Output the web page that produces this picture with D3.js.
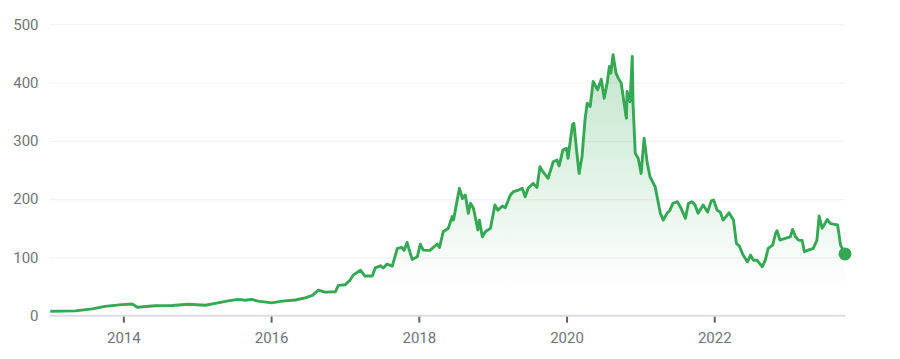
<!DOCTYPE html>
<html>
<head>
<meta charset="utf-8">
<script src="https://cdn.jsdelivr.net/npm/d3@7"></script>
<style>
  html, body { margin: 0; padding: 0; background: #fff; }
  svg { display: block; }
</style>
</head>
<body>
<svg id="chart" width="900" height="359"></svg>
<script>
// decimal years and closing price
var years = [
  2013.01, 2013.35, 2013.58, 2013.75, 2013.98, 2014.12, 2014.19, 2014.43, 2014.66, 2014.88,
  2015.11, 2015.28, 2015.40, 2015.55, 2015.65, 2015.74, 2015.82, 2016.01, 2016.15, 2016.33,
  2016.46, 2016.56, 2016.64, 2016.73, 2016.87, 2016.91, 2017.00, 2017.07, 2017.11, 2017.21,
  2017.27, 2017.37, 2017.41, 2017.48, 2017.52, 2017.57, 2017.64, 2017.71, 2017.77, 2017.80,
  2017.84, 2017.91, 2017.98, 2018.02, 2018.06, 2018.15, 2018.25, 2018.28, 2018.33, 2018.40,
  2018.45, 2018.47, 2018.52, 2018.55, 2018.59, 2018.63, 2018.67, 2018.70, 2018.74, 2018.80,
  2018.82, 2018.86, 2018.90, 2018.97, 2019.03, 2019.07, 2019.13, 2019.17, 2019.24, 2019.28,
  2019.35, 2019.40, 2019.44, 2019.48, 2019.55, 2019.60, 2019.64, 2019.68, 2019.75, 2019.82,
  2019.87, 2019.90, 2019.95, 2020.00, 2020.02, 2020.08, 2020.10, 2020.14, 2020.17, 2020.21,
  2020.25, 2020.28, 2020.32, 2020.36, 2020.42, 2020.47, 2020.51, 2020.55, 2020.58, 2020.60,
  2020.63, 2020.67, 2020.70, 2020.74, 2020.77, 2020.81, 2020.82, 2020.86, 2020.89, 2020.90,
  2020.93, 2020.97, 2021.01, 2021.05, 2021.09, 2021.13, 2021.20, 2021.27, 2021.31, 2021.36,
  2021.40, 2021.44, 2021.50, 2021.54, 2021.61, 2021.65, 2021.70, 2021.74, 2021.78, 2021.85,
  2021.91, 2021.96, 2021.99, 2022.04, 2022.08, 2022.12, 2022.16, 2022.20, 2022.26, 2022.30,
  2022.34, 2022.39, 2022.45, 2022.49, 2022.53, 2022.58, 2022.60, 2022.65, 2022.69, 2022.73,
  2022.79, 2022.83, 2022.85, 2022.89, 2022.96, 2023.03, 2023.06, 2023.10, 2023.14, 2023.19,
  2023.22, 2023.27, 2023.34, 2023.39, 2023.42, 2023.46, 2023.50, 2023.53, 2023.57, 2023.61,
  2023.67, 2023.71, 2023.77
];
var prices = [
  7.7, 8.3, 11.7, 16, 19, 20, 14.6, 17, 17.5, 19.7,
  18, 22, 25, 28, 26.6, 28, 25, 22, 25, 27,
  30.6, 35, 43.8, 40.4, 41, 52, 53, 61, 69.6, 78,
  68, 68, 82, 85.6, 82, 88.5, 85, 115.4, 117, 112,
  125.7, 96.5, 101, 122.8, 112.5, 112, 123, 117, 144, 150,
  170, 164, 198.5, 218.5, 201, 207, 175.6, 192.8, 184, 147,
  164, 135.4, 144, 150, 190, 181, 188, 185, 207, 212.7,
  215.6, 218.5, 204, 218.5, 227, 220, 255.7, 247, 235.7, 264,
  267, 257, 284, 287, 270, 327, 330, 278.7, 244, 273,
  336, 364.6, 358.8, 401.7, 387.5, 405.8, 373, 399, 427.5, 416,
  447.6, 416, 407.5, 399, 373, 338.8, 384.5, 367, 444.7, 364.6,
  278.7, 270, 244, 304.5, 264, 238.5, 221, 175.6, 164, 175.6,
  181, 192.8, 195.5, 187, 167, 192.8, 195.5, 190, 175.6, 190,
  178, 197, 198.5, 181, 178, 164, 170, 176.6, 164, 124,
  119.4, 104, 92.4, 104, 95, 95, 92, 84, 95, 115.5,
  121, 141, 145.7, 129.7, 132.6, 135.4, 148, 135.4, 129.7, 129,
  109.6, 112.5, 115.5, 129.7, 171, 150, 158.4, 165, 158.4, 157,
  155.5, 121, 106
];
var yTicks = [0, 100, 200, 300, 400, 500];
var xTicks = [2014, 2016, 2018, 2020, 2022];

var data = years.map(function(d, i) { return [d, prices[i]]; });

var svg = d3.select('#chart');
var padLeft = 49.5, padRight = 845, padTop = 24.2, padBottom = 315.7;
var green = '#34a853';
var font = 'Roboto, "Noto Sans", sans-serif';

var x = d3.scaleLinear().domain([2013, d3.max(years)]).range([padLeft, padRight]);
var y = d3.scaleLinear().domain([0, 500]).range([padBottom, padTop]);

// gridlines + y labels
var yAxis = svg.append('g')
  .attr('transform', 'translate(' + padLeft + ',0)')
  .call(d3.axisLeft(y).tickValues(yTicks).tickSize(-(padRight - padLeft)).tickPadding(11));
yAxis.attr('font-family', font);
yAxis.select('.domain').remove();
yAxis.selectAll('.tick line').attr('stroke', '#f1f3f4').attr('stroke-width', 1.2)
  .attr('opacity', d => d === 0 ? 0 : 1);
yAxis.selectAll('.tick text').attr('fill', '#70757a').style('font-size', '15px');

// gradient under the line
var defs = svg.append('defs');
var grad = defs.append('linearGradient').attr('id', 'fade')
  .attr('gradientUnits', 'userSpaceOnUse')
  .attr('x1', 0).attr('x2', 0)
  .attr('y1', y(450)).attr('y2', y(45));
grad.append('stop').attr('offset', '0%').attr('stop-color', green).attr('stop-opacity', 0.3);
grad.append('stop').attr('offset', '100%').attr('stop-color', green).attr('stop-opacity', 0);

var area = d3.area().x(d => x(d[0])).y0(y(0)).y1(d => y(d[1]));
svg.append('path').datum(data).attr('d', area).attr('fill', 'url(#fade)');

// bottom axis
var xAxis = svg.append('g')
  .attr('transform', 'translate(0,' + padBottom + ')')
  .call(d3.axisBottom(x).tickValues(xTicks).tickFormat(d3.format('d')).tickSize(7).tickPadding(10));
xAxis.attr('font-family', font);
xAxis.select('.domain').remove();
xAxis.selectAll('.tick line').attr('stroke', '#5f6368').attr('stroke-width', 2);
xAxis.selectAll('.tick text').attr('fill', '#70757a').style('font-size', '15px');
svg.append('line')
  .attr('x1', padLeft).attr('x2', padRight).attr('y1', padBottom).attr('y2', padBottom)
  .attr('stroke', '#dadce0').attr('stroke-width', 2);

var line = d3.line().x(d => x(d[0])).y(d => y(d[1]));
svg.append('path').datum(data)
  .attr('d', line)
  .attr('fill', 'none')
  .attr('stroke', green)
  .attr('stroke-width', 2.9)
  .attr('stroke-linejoin', 'round');

var last = data[data.length - 1];
svg.append('circle')
  .attr('cx', x(last[0])).attr('cy', y(last[1]))
  .attr('r', 6.5).attr('fill', green);
</script>
</body>
</html>
